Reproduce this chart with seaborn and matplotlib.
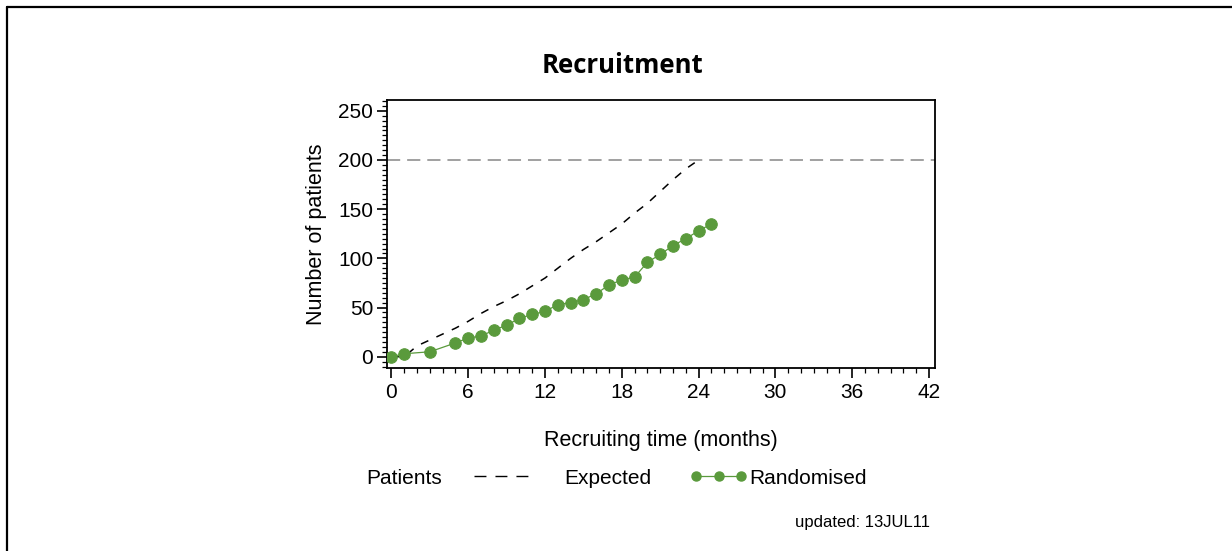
import matplotlib
matplotlib.use("Agg")
import matplotlib.pyplot as plt
from matplotlib.ticker import MultipleLocator
from matplotlib.lines import Line2D
import seaborn as sns
import pandas as pd

# ---- data ----
exp_months = list(range(0, 25))
expected = [0, 0, 11, 17, 23, 29, 36, 44, 51, 57, 64, 72, 80, 90, 100,
            109, 117, 126, 135, 146, 156, 168, 180, 191, 200]
rand_months = [0, 1, 3, 5, 6, 7, 8, 9, 10, 11, 12, 13, 14, 15, 16, 17,
               18, 19, 20, 21, 22, 23, 24, 25]
randomised = [0, 3, 5, 14, 19, 21, 27, 32, 39, 43, 46, 53, 55, 58, 64, 73,
              78, 81, 96, 104, 113, 120, 128, 135]
target = 200
x_ticks = [0, 6, 12, 18, 24, 30, 36, 42]
y_ticks = [0, 50, 100, 150, 200, 250]

sns.set_style("ticks")
plt.rcParams["font.family"] = ["Liberation Sans", "DejaVu Sans"]
plt.rcParams["lines.scale_dashes"] = False
plt.rcParams["text.color"] = "black"

W, H = 1232, 551
fig = plt.figure(figsize=(W / 100, H / 100), dpi=100)
ax = fig.add_axes([387 / W, 1 - 368 / H, (935 - 387) / W, (368 - 100) / H])

green = "#5a9a3c"
df_e = pd.DataFrame({"month": exp_months, "n": expected})
df_r = pd.DataFrame({"month": rand_months, "n": randomised})

ax.axhline(target, color="#a0a0a0", lw=1.4, dashes=(9.5, 5), zorder=1)
sns.lineplot(data=df_e, x="month", y="n", ax=ax, color="black", lw=1.1,
             dashes=False, zorder=2)
ax.lines[-1].set_dashes((5.8, 6.4))
sns.lineplot(data=df_r, x="month", y="n", ax=ax, color=green, lw=0.9,
             marker="o", markersize=8.3, markeredgecolor=green, zorder=3)

ax.set_xlim(-0.35, 42.47)
ax.set_ylim(-11.5, 261)
ax.set_xticks(x_ticks)
ax.set_yticks(y_ticks)
ax.xaxis.set_minor_locator(MultipleLocator(1))
ax.yaxis.set_minor_locator(MultipleLocator(5))
ax.tick_params(axis="both", which="major", direction="out", length=7,
               width=1.2, labelsize=15, color="black", labelcolor="black")
ax.tick_params(axis="both", which="minor", direction="out", length=3.5,
               width=0.9, color="black")
ax.tick_params(axis="x", pad=4)
ax.tick_params(axis="y", pad=3)
for s in ax.spines.values():
    s.set_visible(True)
    s.set_linewidth(1.3)
    s.set_color("black")

ax.set_xlabel("Recruiting time (months)", fontsize=15.5, labelpad=20,
              color="black")
ax.set_ylabel("Number of patients", fontsize=15.5, labelpad=8, color="black")

fig.text(622 / W, 1 - 65 / H, "Recruitment", ha="center", va="center",
         fontsize=18.5, fontweight="bold", color="black",
         family=["Open Sans", "DejaVu Sans"])

# legend
fig.text(366 / W, 1 - 478 / H, "Patients", ha="left", va="center",
         fontsize=15, color="black")
h_exp = Line2D([], [], color="black", lw=1.0, dashes=(8.6, 6.5))
h_rand = Line2D([], [], color=green, lw=0.9, marker="o", markersize=6.5,
                markeredgecolor=green)
leg1 = fig.legend(handles=[h_exp], labels=["Expected"], loc="center left",
                  bbox_to_anchor=(474 / W, 1 - 478 / H), frameon=False,
                  fontsize=15, handlelength=2.6, handletextpad=1.75,
                  borderaxespad=0, borderpad=0, labelcolor="black")
leg2 = fig.legend(handles=[h_rand], labels=["Randomised"], loc="center left",
                  bbox_to_anchor=(690 / W, 1 - 478 / H), frameon=False,
                  fontsize=15, handlelength=2.75, handletextpad=0.1,
                  numpoints=3, borderaxespad=0, borderpad=0,
                  labelcolor="black")

fig.text(930 / W, 1 - 523 / H, "updated: 13JUL11", ha="right", va="center",
         fontsize=12, color="black")

# L-shaped frame
fig.add_artist(Line2D([7 / W, 7 / W], [0, 1 - 7 / H], color="black", lw=1.6,
                      transform=fig.transFigure))
fig.add_artist(Line2D([7 / W, 1], [1 - 7 / H, 1 - 7 / H], color="black", lw=1.6,
                      transform=fig.transFigure))

fig.savefig("out.png", dpi=100)
